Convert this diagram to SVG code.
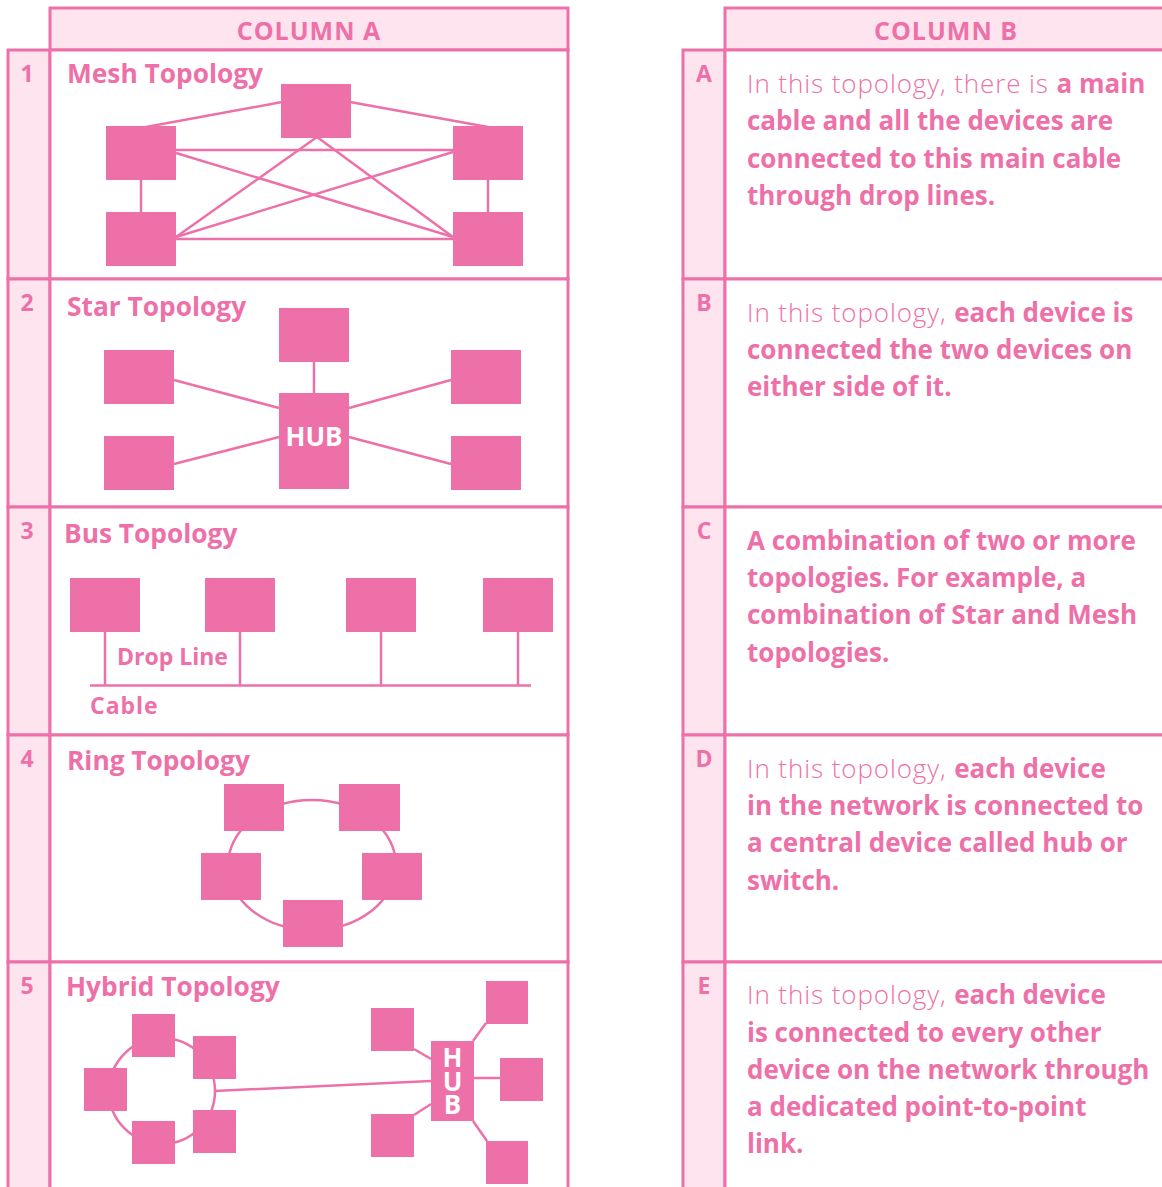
<svg xmlns="http://www.w3.org/2000/svg" width="1162" height="1187" viewBox="0 0 1162 1187">
<style>
.cell{fill:#ffffff;stroke:#ee70a8;stroke-width:3}
.lab{fill:#fde4ef;stroke:#ee70a8;stroke-width:3}
.dev{fill:#ee70a8}
.ln{stroke:#ee70a8;stroke-width:2.5;fill:none}
.t{font-family:"Open Sans",Lato,sans-serif;fill:#ee70a8}
.hd{font-size:25px;font-weight:700;text-anchor:middle;letter-spacing:1px}
.num{font-size:23px;font-weight:700;text-anchor:middle}
.ttl{font-size:26.3px;font-weight:700}
.desc{font-size:26px;font-weight:700}
.lt{font-weight:300;letter-spacing:0.9px}
.w{fill:#ffffff;font-family:"Open Sans",Lato,sans-serif;font-weight:700;font-size:26px;text-anchor:middle}
.sm{font-size:23px;font-weight:700}
</style>
<rect width="1162" height="1187" fill="#ffffff"/>
<g id="table-a">
<rect class="lab" x="50" y="8" width="518" height="42"/>
<text class="t hd" x="309" y="40">COLUMN A</text>
<rect class="lab" x="8" y="50" width="42" height="229"/>
<rect class="cell" x="50" y="50" width="518" height="229"/>
<rect class="lab" x="8" y="279" width="42" height="228"/>
<rect class="cell" x="50" y="279" width="518" height="228"/>
<rect class="lab" x="8" y="507" width="42" height="228"/>
<rect class="cell" x="50" y="507" width="518" height="228"/>
<rect class="lab" x="8" y="735" width="42" height="227"/>
<rect class="cell" x="50" y="735" width="518" height="227"/>
<rect class="lab" x="8" y="962" width="42" height="240"/>
<rect class="cell" x="50" y="962" width="518" height="240"/>
<text class="t num" x="27" y="82">1</text>
<text class="t num" x="27" y="311">2</text>
<text class="t num" x="27" y="539">3</text>
<text class="t num" x="27" y="767">4</text>
<text class="t num" x="27" y="994">5</text>
</g>
<g id="table-b">
<rect class="lab" x="725" y="8" width="445" height="42"/>
<text class="t hd" x="946" y="40">COLUMN B</text>
<rect class="lab" x="683" y="50" width="42" height="229"/>
<rect class="cell" x="725" y="50" width="445" height="229"/>
<rect class="lab" x="683" y="279" width="42" height="228"/>
<rect class="cell" x="725" y="279" width="445" height="228"/>
<rect class="lab" x="683" y="507" width="42" height="228"/>
<rect class="cell" x="725" y="507" width="445" height="228"/>
<rect class="lab" x="683" y="735" width="42" height="227"/>
<rect class="cell" x="725" y="735" width="445" height="227"/>
<rect class="lab" x="683" y="962" width="42" height="240"/>
<rect class="cell" x="725" y="962" width="445" height="240"/>
<text class="t num" x="704" y="82">A</text>
<text class="t num" x="704" y="311">B</text>
<text class="t num" x="704" y="539">C</text>
<text class="t num" x="704" y="767">D</text>
<text class="t num" x="704" y="994">E</text>
</g>
<g id="desc-a">
<text class="t desc" x="747" y="93"><tspan class="lt">In this topology, there is </tspan>a main</text>
<text class="t desc" x="747" y="130">cable and all the devices are</text>
<text class="t desc" x="747" y="167.5">connected to this main cable</text>
<text class="t desc" x="747" y="204.5">through drop lines.</text>
</g>
<g id="desc-b">
<text class="t desc" x="747" y="322"><tspan class="lt">In this topology, </tspan>each device is</text>
<text class="t desc" x="747" y="359">connected the two devices on</text>
<text class="t desc" x="747" y="396">either side of it.</text>
</g>
<g id="desc-c">
<text class="t desc" x="747" y="550">A combination of two or more</text>
<text class="t desc" x="747" y="587">topologies. For example, a</text>
<text class="t desc" x="747" y="624">combination of Star and Mesh</text>
<text class="t desc" x="747" y="661.5">topologies.</text>
</g>
<g id="desc-d">
<text class="t desc" x="747" y="778"><tspan class="lt">In this topology, </tspan>each device</text>
<text class="t desc" x="747" y="815">in the network is connected to</text>
<text class="t desc" x="747" y="852">a central device called hub or</text>
<text class="t desc" x="747" y="889.5">switch.</text>
</g>
<g id="desc-e">
<text class="t desc" x="747" y="1004"><tspan class="lt">In this topology, </tspan>each device</text>
<text class="t desc" x="747" y="1041.5">is connected to every other</text>
<text class="t desc" x="747" y="1079">device on the network through</text>
<text class="t desc" x="747" y="1116">a dedicated point-to-point</text>
<text class="t desc" x="747" y="1153">link.</text>
</g>
<g id="connectors">
<line class="ln" x1="146" y1="127" x2="282" y2="102"/>
<line class="ln" x1="350" y1="102" x2="488" y2="127"/>
<line class="ln" x1="176" y1="150" x2="453" y2="150"/>
<line class="ln" x1="176" y1="153" x2="453" y2="237"/>
<line class="ln" x1="176" y1="237" x2="453" y2="152"/>
<line class="ln" x1="317" y1="137" x2="176" y2="237"/>
<line class="ln" x1="317" y1="137" x2="453" y2="237"/>
<line class="ln" x1="176" y1="239" x2="453" y2="239"/>
<line class="ln" x1="141" y1="179" x2="141" y2="212"/>
<line class="ln" x1="488" y1="179" x2="488" y2="212"/>
<line class="ln" x1="314" y1="361" x2="314" y2="393"/>
<line class="ln" x1="174" y1="380" x2="279" y2="408"/>
<line class="ln" x1="174" y1="464" x2="279" y2="437"/>
<line class="ln" x1="349" y1="408" x2="451" y2="380"/>
<line class="ln" x1="349" y1="437" x2="451" y2="464"/>
<line class="ln" x1="90" y1="685.5" x2="531" y2="685.5"/>
<line class="ln" x1="105" y1="631" x2="105" y2="685"/>
<line class="ln" x1="240" y1="631" x2="240" y2="685"/>
<line class="ln" x1="381" y1="631" x2="381" y2="685"/>
<line class="ln" x1="518" y1="631" x2="518" y2="685"/>
<ellipse class="ln" cx="312" cy="865" rx="84" ry="65"/>
<circle class="ln" cx="162" cy="1091" r="53"/>
<line class="ln" x1="214" y1="1091" x2="431" y2="1081"/>
<line class="ln" x1="414" y1="1049" x2="431" y2="1059"/>
<line class="ln" x1="473" y1="1041" x2="486" y2="1023"/>
<line class="ln" x1="474" y1="1078" x2="500" y2="1078"/>
<line class="ln" x1="414" y1="1115" x2="431" y2="1104"/>
<line class="ln" x1="473" y1="1121" x2="487" y2="1141"/>
</g>
<g id="mesh">
<text class="t ttl" x="67" y="83">Mesh Topology</text>
<rect class="dev" x="281" y="84" width="70" height="54"/>
<rect class="dev" x="106" y="126" width="70" height="54"/>
<rect class="dev" x="453" y="126" width="70" height="54"/>
<rect class="dev" x="106" y="212" width="70" height="54"/>
<rect class="dev" x="453" y="212" width="70" height="54"/>
</g>
<g id="star">
<text class="t ttl" x="67" y="316">Star Topology</text>
<rect class="dev" x="279" y="308" width="70" height="54"/>
<rect class="dev" x="104" y="350" width="70" height="54"/>
<rect class="dev" x="451" y="350" width="70" height="54"/>
<rect class="dev" x="104" y="436" width="70" height="54"/>
<rect class="dev" x="451" y="436" width="70" height="54"/>
<g id="star-hub">
<rect class="dev" x="279" y="393" width="70" height="96"/>
<text class="w" x="314" y="446">HUB</text>
</g>
</g>
<g id="bus">
<text class="t ttl" x="64" y="543">Bus Topology</text>
<rect class="dev" x="70" y="578" width="70" height="54"/>
<rect class="dev" x="205" y="578" width="70" height="54"/>
<rect class="dev" x="346" y="578" width="70" height="54"/>
<rect class="dev" x="483" y="578" width="70" height="54"/>
<text class="t sm" x="117" y="665">Drop Line</text>
<text class="t sm" x="90" y="714" letter-spacing="1">Cable</text>
</g>
<g id="ring">
<text class="t ttl" x="67" y="770">Ring Topology</text>
<rect class="dev" x="224" y="784" width="60" height="47"/>
<rect class="dev" x="339" y="784" width="61" height="47"/>
<rect class="dev" x="201" y="853" width="60" height="47"/>
<rect class="dev" x="362" y="853" width="60" height="47"/>
<rect class="dev" x="283" y="900" width="60" height="47"/>
</g>
<g id="hybrid">
<text class="t ttl" x="66" y="996">Hybrid Topology</text>
<rect class="dev" x="132" y="1014" width="43" height="43"/>
<rect class="dev" x="193" y="1036" width="43" height="43"/>
<rect class="dev" x="84" y="1068" width="43" height="43"/>
<rect class="dev" x="132" y="1121" width="43" height="43"/>
<rect class="dev" x="193" y="1110" width="43" height="43"/>
<rect class="dev" x="371" y="1008" width="43" height="43"/>
<rect class="dev" x="486" y="981" width="42" height="43"/>
<rect class="dev" x="500" y="1058" width="43" height="43"/>
<rect class="dev" x="371" y="1114" width="43" height="43"/>
<rect class="dev" x="486" y="1141" width="42" height="43"/>
<g id="hybrid-hub">
<rect class="dev" x="431" y="1041" width="43" height="80"/>
<text class="w"><tspan x="452.5" y="1067">H</tspan><tspan x="452.5" y="1091">U</tspan><tspan x="452.5" y="1114">B</tspan></text>
</g>
</g>
</svg>
